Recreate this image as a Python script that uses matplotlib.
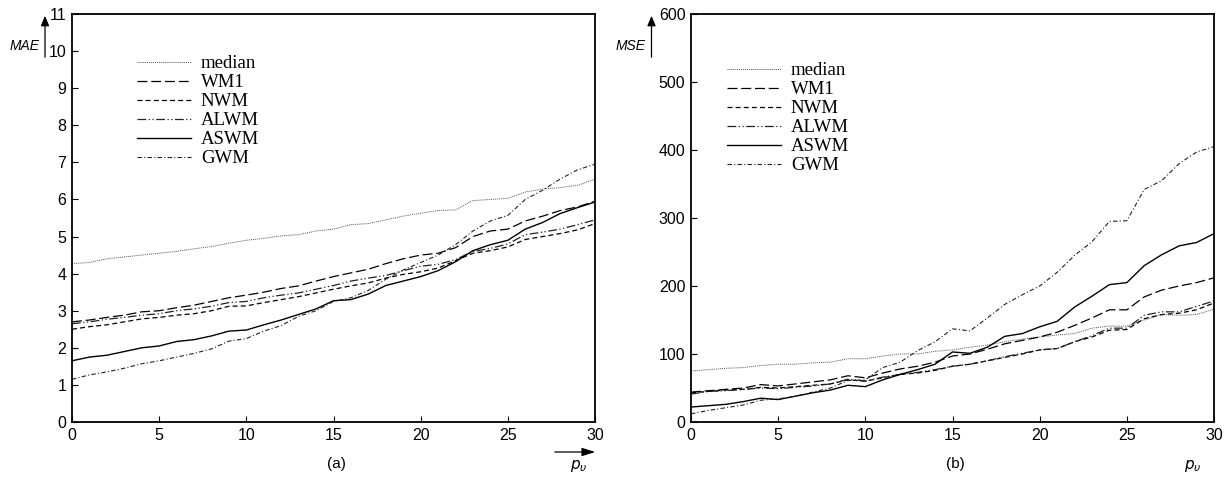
import matplotlib
matplotlib.use("Agg")
import matplotlib.pyplot as plt
import numpy as np

p_v = list(range(31))

mae_median = [4.27, 4.30, 4.40, 4.45, 4.50, 4.55, 4.60, 4.67, 4.73, 4.82, 4.90, 4.95, 5.02, 5.05, 5.15, 5.20,
              5.32, 5.35, 5.45, 5.55, 5.63, 5.70, 5.72, 5.97, 6.00, 6.03, 6.20, 6.28, 6.32, 6.38, 6.55]
mae_wm1 = [2.70, 2.75, 2.82, 2.88, 2.97, 3.00, 3.08, 3.15, 3.25, 3.35, 3.42, 3.50, 3.60, 3.67, 3.80, 3.92,
           4.02, 4.12, 4.27, 4.40, 4.50, 4.55, 4.70, 5.00, 5.15, 5.20, 5.42, 5.55, 5.70, 5.80, 5.95]
mae_nwm = [2.50, 2.57, 2.62, 2.70, 2.78, 2.82, 2.88, 2.92, 3.00, 3.12, 3.13, 3.22, 3.30, 3.38, 3.48, 3.58,
           3.67, 3.75, 3.88, 3.98, 4.05, 4.15, 4.35, 4.55, 4.62, 4.72, 4.92, 5.00, 5.08, 5.18, 5.35]
mae_alwm = [2.65, 2.70, 2.77, 2.82, 2.88, 2.92, 3.00, 3.05, 3.12, 3.22, 3.25, 3.35, 3.42, 3.48, 3.58, 3.68,
            3.80, 3.88, 3.95, 4.08, 4.20, 4.25, 4.38, 4.60, 4.68, 4.80, 5.05, 5.12, 5.20, 5.32, 5.45]
mae_aswm = [1.65, 1.75, 1.80, 1.90, 2.00, 2.05, 2.17, 2.22, 2.32, 2.45, 2.48, 2.62, 2.75, 2.90, 3.05, 3.27,
            3.30, 3.45, 3.68, 3.80, 3.92, 4.08, 4.32, 4.62, 4.78, 4.90, 5.20, 5.38, 5.62, 5.78, 5.93]
mae_gwm = [1.15, 1.27, 1.35, 1.45, 1.57, 1.65, 1.75, 1.85, 1.97, 2.18, 2.25, 2.45, 2.60, 2.85, 3.00, 3.25,
           3.35, 3.55, 3.85, 4.10, 4.30, 4.50, 4.78, 5.15, 5.42, 5.57, 6.00, 6.25, 6.55, 6.80, 6.95]

mse_median = [75, 77, 79, 80, 83, 85, 85, 87, 88, 93, 93, 97, 100, 100, 104, 106,
              110, 113, 118, 122, 125, 128, 130, 138, 141, 141, 150, 158, 157, 158, 166]
mse_wm1 = [44, 46, 48, 50, 55, 53, 56, 59, 62, 68, 65, 72, 78, 82, 88, 97,
           100, 107, 115, 120, 125, 132, 142, 153, 165, 165, 184, 194, 200, 205, 212]
mse_nwm = [43, 45, 47, 48, 51, 50, 52, 54, 56, 62, 60, 65, 70, 72, 76, 82,
           85, 90, 95, 100, 106, 108, 118, 125, 135, 136, 152, 158, 160, 165, 175]
mse_alwm = [41, 45, 46, 48, 50, 49, 51, 53, 56, 63, 60, 66, 70, 73, 77, 82,
            85, 90, 96, 101, 106, 108, 118, 127, 138, 138, 157, 162, 162, 170, 178]
mse_aswm = [22, 24, 26, 30, 35, 33, 38, 43, 47, 54, 52, 62, 70, 77, 85, 103,
            101, 110, 126, 130, 140, 148, 169, 185, 202, 205, 230, 246, 259, 264, 277]
mse_gwm = [12, 17, 21, 25, 32, 34, 38, 44, 50, 61, 62, 80, 88, 105, 118, 137,
           134, 153, 173, 187, 200, 220, 245, 265, 295, 296, 342, 355, 380, 397, 405]

names = ["median", "WM1", "NWM", "ALWM", "ASWM", "GWM"]
styles = [
    dict(linestyle=(0, (1, 1)), linewidth=0.7, color="#555555"),
    dict(linestyle=(0, (8, 3)), linewidth=0.9, color="black"),
    dict(linestyle=(0, (4, 2.5)), linewidth=0.9, color="black"),
    dict(linestyle=(0, (7, 2, 1, 2, 1, 2)), linewidth=0.9, color="#222222"),
    dict(linestyle="-", linewidth=1.0, color="black"),
    dict(linestyle=(0, (4, 2, 1, 2)), linewidth=0.8, color="#222222"),
]

plt.rcParams['font.family'] = ['Liberation Sans', 'DejaVu Sans']

fig = plt.figure(figsize=(12.32, 4.79), dpi=100)
W, H = 1232, 479
ax1 = fig.add_axes([72 / W, (H - 422) / H, (595 - 72) / W, (422 - 14) / H])
ax2 = fig.add_axes([691 / W, (H - 422) / H, (1214 - 691) / W, (422 - 14) / H])

def setup(ax, ymax, ystep, data, legend_anchor):
    for d, st, nm in zip(data, styles, names):
        ax.plot(p_v, d, label=nm, **st)
    ax.set_xlim(0, 30)
    ax.set_ylim(0, ymax)
    ax.set_xticks(range(0, 31, 5))
    ax.set_yticks(np.arange(0, ymax + 0.001, ystep))
    ax.tick_params(direction="in", length=4, width=0.8, labelsize=11.5, pad=4,
                   top=False, right=False)
    for s in ax.spines.values():
        s.set_linewidth(1.3)
    leg = ax.legend(loc="upper left", bbox_to_anchor=legend_anchor, frameon=False,
                    prop=dict(family="Liberation Serif", size=13.5), handlelength=2.9,
                    handletextpad=0.5, labelspacing=0.1, borderpad=0, borderaxespad=0)
    return leg

setup(ax1, 11, 1, [mae_median, mae_wm1, mae_nwm, mae_alwm, mae_aswm, mae_gwm], ((137 - 72) / 523, (422 - 55) / 408))
setup(ax2, 600, 100, [mse_median, mse_wm1, mse_nwm, mse_alwm, mse_aswm, mse_gwm], ((727 - 691) / 523, (422 - 62) / 408))

def px(x, y):
    return (x / W, 1 - y / H)

# y-axis arrows and labels
for xa, lab, xl in [(45, "MAE", 40), (651.5, "MSE", 646)]:
    fig.add_artist(matplotlib.patches.FancyArrowPatch(px(xa, 60), px(xa, 13), transform=fig.transFigure,
                                                      arrowstyle="-|>,head_length=6,head_width=2.5",
                                                      color="black", linewidth=0.9))
    fig.text(*px(xl, 46), lab, ha="right", va="center", style="italic", fontsize=10)

# x arrow in panel a
fig.add_artist(matplotlib.patches.FancyArrowPatch(px(552, 452), px(598, 452), transform=fig.transFigure,
                                                  arrowstyle="-|>,head_length=8,head_width=2.5",
                                                  color="black", linewidth=0.9))
fig.text(*px(579, 466), r"$p_{\upsilon}$", ha="center", va="center", fontsize=11)
fig.text(*px(1193, 466), r"$p_{\upsilon}$", ha="center", va="center", fontsize=11)
fig.text(*px(336, 464), "(a)", ha="center", va="center", fontsize=11)
fig.text(*px(955, 464), "(b)", ha="center", va="center", fontsize=11)

fig.savefig("out.png", dpi=100)
